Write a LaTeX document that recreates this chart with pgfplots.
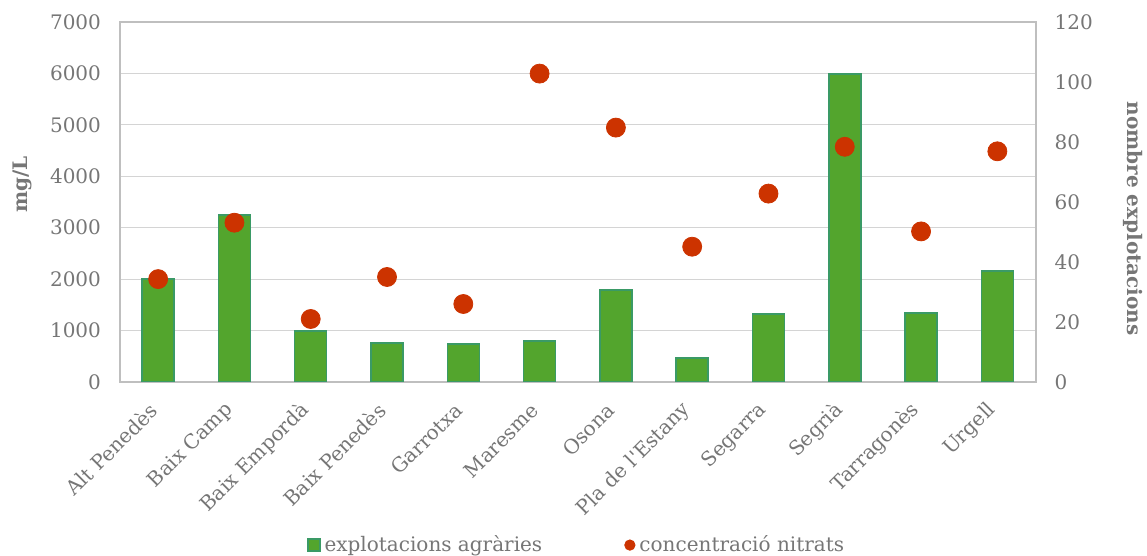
\documentclass[border=0pt]{standalone}
\usepackage{fontspec}
\setmainfont{DejaVu Serif}
\usepackage{pgfplots}
\pgfplotsset{compat=1.18}
\definecolor{barfill}{HTML}{53A52D}
\definecolor{barline}{HTML}{3A9A66}
\definecolor{dotred}{HTML}{CC3300}
\definecolor{txtgray}{HTML}{767676}
\definecolor{framegray}{HTML}{BFBFBF}
\definecolor{gridgray}{HTML}{D4D4D4}

\pgfplotsset{
  common/.style={
    scale only axis, width=457.75pt, height=180pt,
    xmin=-0.5, xmax=11.5, ymin=0,
    major tick length=0pt,
    tick label style={font=\fontsize{10}{12}\selectfont, text=txtgray},
    /pgf/number format/assume math mode=true,
    /pgf/number format/1000 sep={},
    axis line style={framegray, line width=1pt},
  }
}

\begin{document}
\begin{tikzpicture}
\begin{axis}[common,
  ymax=7000, ytick={0,1000,...,7000},
  ymajorgrids, grid style={gridgray, line width=0.5pt},
  xtick={0,...,11},
  xticklabels={Alt Penedès, Baix Camp, Baix Empordà, Baix Penedès, Garrotxa, Maresme, Osona, Pla de l\textquotesingle Estany, Segarra, Segrià, Tarragonès, Urgell},
  xticklabel style={rotate=45, anchor=east},
  xticklabel shift=10pt,
  yticklabel style={xshift=-6pt},
  ylabel={mg/L},
  every axis y label/.style={at={(axis description cs:-0.107,0.548)}, rotate=90, anchor=center,
    font=\bfseries\fontsize{10}{12}\selectfont, text=txtgray},
]
\addplot[ybar, bar width=16pt, fill=barfill, draw=barline, line width=0.75pt] coordinates {
  (0, 2000) (1, 3250) (2, 990) (3, 755) (4, 740) (5, 795)
  (6, 1790) (7, 465) (8, 1320) (9, 5990) (10, 1345) (11, 2155)
};
\end{axis}
\begin{axis}[common,
  ymax=120, ytick={0,20,...,120},
  axis y line*=right, axis x line=none,
  yticklabel style={xshift=6pt},
  ylabel={nombre explotacions},
  every axis y label/.style={at={(axis description cs:1.107,0.454)}, rotate=-90, anchor=center,
    font=\bfseries\fontsize{10}{12}\selectfont, text=txtgray},
  legend columns=2,
  legend style={at={(axis description cs:0.5,-0.453)}, anchor=center, draw=none,
    font=\fontsize{10}{12}\selectfont, text=txtgray,
    /tikz/every even column/.append style={column sep=39pt}},
]
\addlegendimage{legend image code/.code={\draw[fill=barfill, draw=barline, line width=0.6pt] (0,-3pt) rectangle (6pt,3pt);}}
\addlegendentry{explotacions agràries}
\addplot[only marks, mark=*, mark size=4.75pt, color=dotred,
  legend image code/.code={\fill[dotred] (3pt,0) circle (2.6pt);}] coordinates {
  (0, 34.3) (1, 53.1) (2, 21) (3, 35) (4, 26) (5, 102.8)
  (6, 84.8) (7, 45.1) (8, 62.8) (9, 78.4) (10, 50.2) (11, 76.9)
};
\addlegendentry{concentració nitrats}
\end{axis}
\pgfresetboundingbox
\useasboundingbox (-60pt,-87pt) rectangle (513.5pt,191pt);
\end{tikzpicture}
\end{document}
